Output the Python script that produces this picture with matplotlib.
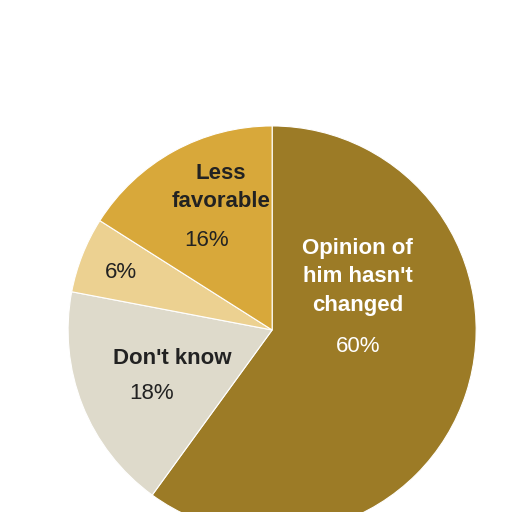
import matplotlib
matplotlib.use("Agg")
import matplotlib.pyplot as plt

categories = ["Opinion of him hasn't changed", "Don't know", "More favorable", "Less favorable"]
values = [60, 18, 6, 16]
colors = ["#9c7b26", "#dedacb", "#ecd191", "#d8a83a"]

fig = plt.figure(figsize=(5.12, 5.12), dpi=100)
ax = fig.add_axes([0.133, -0.043, 0.797, 0.797])
ax.pie(values, colors=colors, startangle=90, counterclock=False, radius=1,
       wedgeprops=dict(edgecolor="white", linewidth=0.8))
ax.set_xlim(-1, 1); ax.set_ylim(-1, 1)
ax.set_aspect("equal")

fam = ["Liberation Sans", "DejaVu Sans"]
fs = 16
ax.text(0.42, 0.26, "Opinion of\nhim hasn't\nchanged", color="white", fontsize=fs, fontweight="bold",
        ha="center", va="center", linespacing=1.45, family=fam)
ax.text(0.42, -0.08, "60%", color="white", fontsize=fs, ha="center", va="center", family=fam)
ax.text(-0.49, -0.14, "Don't know", color="#222222", fontsize=fs, fontweight="bold",
        ha="center", va="center", family=fam)
ax.text(-0.59, -0.31, "18%", color="#222222", fontsize=fs, ha="center", va="center", family=fam)
ax.text(-0.74, 0.28, "6%", color="#222222", fontsize=fs, ha="center", va="center", family=fam)
ax.text(-0.25, 0.70, "Less\nfavorable", color="#222222", fontsize=fs, fontweight="bold",
        ha="center", va="center", linespacing=1.45, family=fam)
ax.text(-0.32, 0.44, "16%", color="#222222", fontsize=fs, ha="center", va="center", family=fam)

fig.savefig("out.png", dpi=100)
